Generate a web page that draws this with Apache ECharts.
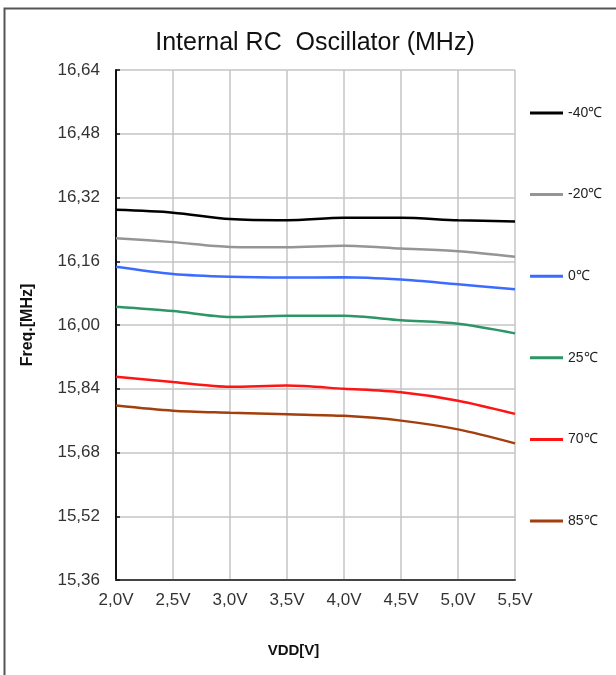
<!DOCTYPE html>
<html>
<head>
<meta charset="utf-8">
<title>Internal RC Oscillator</title>
<script src="https://cdn.jsdelivr.net/npm/echarts@6/dist/echarts.min.js"></script>
<style>
  html, body { margin: 0; padding: 0; background: #fff; }
  #chart { width: 616px; height: 675px; }
</style>
</head>
<body>
<div id="chart"></div>
<script>
// 电压（X 轴）
const vddLabels = ['2.0', '2.5', '3.0', '3.5', '4.0', '4.5', '5.0', '5.5']

// 各温度下的频率（MHz）
const tempNames = ['-40℃', '-20℃', '0℃', '25℃', '70℃', '85℃']
const freqM40 = [16.289, 16.282, 16.266, 16.263, 16.269, 16.269, 16.263, 16.260]
const freqM20 = [16.218, 16.208, 16.196, 16.195, 16.199, 16.192, 16.185, 16.171]
const freq0 = [16.146, 16.128, 16.121, 16.119, 16.120, 16.114, 16.102, 16.090]
const freq25 = [16.046, 16.035, 16.020, 16.023, 16.023, 16.012, 16.003, 15.979]
const freq70 = [15.870, 15.857, 15.845, 15.848, 15.840, 15.831, 15.810, 15.777]
const freq85 = [15.798, 15.785, 15.780, 15.776, 15.772, 15.760, 15.738, 15.703]

const seriesData = [freqM40, freqM20, freq0, freq25, freq70, freq85]
const lineColors = ['#000000', '#959595', '#3b6cff', '#2e9566', '#ff1414', '#a23f0c']

const chart = echarts.init(document.getElementById('chart'))
const fontFamily = '"Liberation Sans", Arial, sans-serif'

const option = {
  animation: false,
  backgroundColor: '#fff',
  textStyle: { fontFamily },
  graphic: [
    {
      type: 'rect',
      shape: { x: 4.5, y: 8.5, width: 700, height: 700 },
      style: { fill: 'none', stroke: '#555', lineWidth: 2 },
      silent: true,
    },
  ],
  title: {
    text: 'Internal RC  Oscillator (MHz)',
    left: 310,
    top: 26,
    textAlign: 'center',
    textStyle: { fontSize: 25, fontWeight: 'normal', color: '#111', fontFamily },
  },
  legend: {
    orient: 'vertical',
    left: 525,
    top: 100,
    itemWidth: 33,
    itemHeight: 3,
    itemGap: 65.6,
    icon: 'rect',
    data: tempNames,
    textStyle: { fontSize: 14, color: '#222', padding: [0, 0, 0, 0], height: 16, lineHeight: 16 },
  },
  grid: {
    left: 116,
    right: 101,
    top: 70,
    bottom: 95,
    containLabel: false,
  },
  xAxis: {
    type: 'category',
    data: vddLabels,
    boundaryGap: false,
    name: 'VDD[V]',
    nameLocation: 'middle',
    nameGap: 63,
    nameTextStyle: { fontSize: 15, fontWeight: 'bold', color: '#111', padding: [0, 44, 0, 0] },
    axisLine: { lineStyle: { color: '#444', width: 2 } },
    axisTick: { show: false },
    axisLabel: {
      color: '#333',
      fontSize: 17,
      margin: 12,
      formatter: (v) => v.replace('.', ',') + 'V',
    },
    splitLine: { show: true, lineStyle: { color: '#c4c4c4', width: 1.5 } },
  },
  yAxis: {
    type: 'value',
    min: 15.36,
    max: 16.64,
    interval: 0.16,
    name: 'Freq.[MHz]',
    nameLocation: 'middle',
    nameGap: 80,
    nameRotate: 90,
    nameTextStyle: { fontSize: 16, fontWeight: 'bold', color: '#111' },
    axisLine: { show: true, lineStyle: { color: '#111', width: 2 } },
    axisTick: { show: true, inside: true, length: 4, lineStyle: { color: '#111', width: 1.5 } },
    axisLabel: {
      color: '#333',
      fontSize: 17,
      margin: 16,
      formatter: (v) => v.toFixed(2).replace('.', ','),
    },
    splitLine: { show: true, lineStyle: { color: '#c4c4c4', width: 1.5 } },
  },
  series: tempNames.map((name, i) => ({
    name,
    type: 'line',
    data: seriesData[i],
    smooth: 0.3,
    symbol: 'none',
    lineStyle: { color: lineColors[i], width: 2.5 },
    itemStyle: { color: lineColors[i] },
  })),
}

chart.setOption(option)
</script>
</body>
</html>
